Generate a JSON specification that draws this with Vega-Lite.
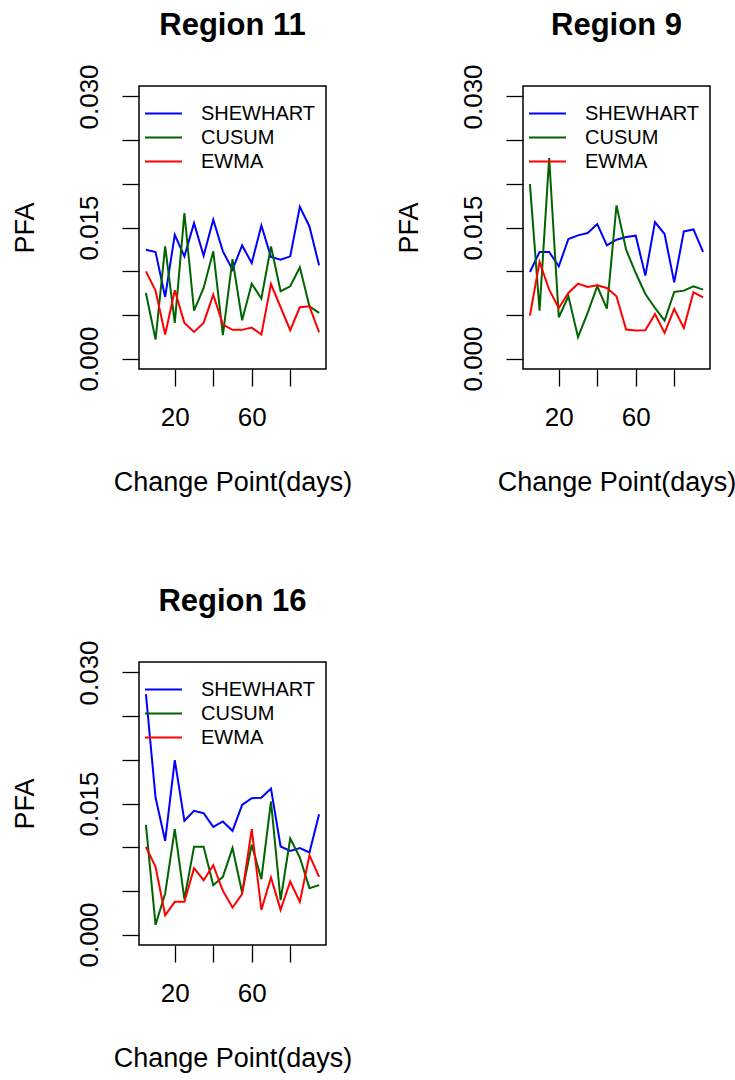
{
  "$schema": "https://vega.github.io/schema/vega-lite/v6.json",
  "background": "white",
  "padding": {"top": 9, "left": 10, "right": 5, "bottom": 5},
  "bounds": "flush",
  "spacing": {"row": 293, "column": 197},
  "columns": 2,
  "data": {"values": [
    {"region": "Region 11", "day": 5, "SHEWHART": 0.01246, "CUSUM": 0.0075, "EWMA": 0.00998},
    {"region": "Region 11", "day": 10, "SHEWHART": 0.0122, "CUSUM": 0.00217, "EWMA": 0.00777},
    {"region": "Region 11", "day": 15, "SHEWHART": 0.00705, "CUSUM": 0.01284, "EWMA": 0.00274},
    {"region": "Region 11", "day": 20, "SHEWHART": 0.01417, "CUSUM": 0.00408, "EWMA": 0.00781},
    {"region": "Region 11", "day": 25, "SHEWHART": 0.0117, "CUSUM": 0.01665, "EWMA": 0.00408},
    {"region": "Region 11", "day": 30, "SHEWHART": 0.0155, "CUSUM": 0.00549, "EWMA": 0.00305},
    {"region": "Region 11", "day": 35, "SHEWHART": 0.01177, "CUSUM": 0.00808, "EWMA": 0.00408},
    {"region": "Region 11", "day": 40, "SHEWHART": 0.0159, "CUSUM": 0.01227, "EWMA": 0.00732},
    {"region": "Region 11", "day": 45, "SHEWHART": 0.01227, "CUSUM": 0.00267, "EWMA": 0.00389},
    {"region": "Region 11", "day": 50, "SHEWHART": 0.01017, "CUSUM": 0.01139, "EWMA": 0.00328},
    {"region": "Region 11", "day": 55, "SHEWHART": 0.01295, "CUSUM": 0.00438, "EWMA": 0.00328},
    {"region": "Region 11", "day": 60, "SHEWHART": 0.01093, "CUSUM": 0.00857, "EWMA": 0.00354},
    {"region": "Region 11", "day": 65, "SHEWHART": 0.01524, "CUSUM": 0.00686, "EWMA": 0.00274},
    {"region": "Region 11", "day": 70, "SHEWHART": 0.01162, "CUSUM": 0.01284, "EWMA": 0.00853},
    {"region": "Region 11", "day": 75, "SHEWHART": 0.01131, "CUSUM": 0.0077, "EWMA": 0.00587},
    {"region": "Region 11", "day": 80, "SHEWHART": 0.0117, "CUSUM": 0.00827, "EWMA": 0.00324},
    {"region": "Region 11", "day": 85, "SHEWHART": 0.01737, "CUSUM": 0.01044, "EWMA": 0.00587},
    {"region": "Region 11", "day": 90, "SHEWHART": 0.01512, "CUSUM": 0.00598, "EWMA": 0.00598},
    {"region": "Region 11", "day": 95, "SHEWHART": 0.01067, "CUSUM": 0.00522, "EWMA": 0.00301},
    {"region": "Region 9", "day": 5, "SHEWHART": 0.0099, "CUSUM": 0.01996, "EWMA": 0.00491},
    {"region": "Region 9", "day": 10, "SHEWHART": 0.0122, "CUSUM": 0.00549, "EWMA": 0.01105},
    {"region": "Region 9", "day": 15, "SHEWHART": 0.0122, "CUSUM": 0.02294, "EWMA": 0.00789},
    {"region": "Region 9", "day": 20, "SHEWHART": 0.01055, "CUSUM": 0.00472, "EWMA": 0.00579},
    {"region": "Region 9", "day": 25, "SHEWHART": 0.01368, "CUSUM": 0.00712, "EWMA": 0.0075},
    {"region": "Region 9", "day": 30, "SHEWHART": 0.0141, "CUSUM": 0.00244, "EWMA": 0.00857},
    {"region": "Region 9", "day": 35, "SHEWHART": 0.01436, "CUSUM": 0.00522, "EWMA": 0.00819},
    {"region": "Region 9", "day": 40, "SHEWHART": 0.01539, "CUSUM": 0.00827, "EWMA": 0.00838},
    {"region": "Region 9", "day": 45, "SHEWHART": 0.01295, "CUSUM": 0.00572, "EWMA": 0.00808},
    {"region": "Region 9", "day": 50, "SHEWHART": 0.0136, "CUSUM": 0.01753, "EWMA": 0.00712},
    {"region": "Region 9", "day": 55, "SHEWHART": 0.01391, "CUSUM": 0.01246, "EWMA": 0.00331},
    {"region": "Region 9", "day": 60, "SHEWHART": 0.01406, "CUSUM": 0.00979, "EWMA": 0.0032},
    {"region": "Region 9", "day": 65, "SHEWHART": 0.00949, "CUSUM": 0.00739, "EWMA": 0.00324},
    {"region": "Region 9", "day": 70, "SHEWHART": 0.01562, "CUSUM": 0.00579, "EWMA": 0.0051},
    {"region": "Region 9", "day": 75, "SHEWHART": 0.01425, "CUSUM": 0.00434, "EWMA": 0.00293},
    {"region": "Region 9", "day": 80, "SHEWHART": 0.00872, "CUSUM": 0.00762, "EWMA": 0.00568},
    {"region": "Region 9", "day": 85, "SHEWHART": 0.01455, "CUSUM": 0.00777, "EWMA": 0.0035},
    {"region": "Region 9", "day": 90, "SHEWHART": 0.01478, "CUSUM": 0.00827, "EWMA": 0.00758},
    {"region": "Region 9", "day": 95, "SHEWHART": 0.0122, "CUSUM": 0.00789, "EWMA": 0.00701},
    {"region": "Region 16", "day": 5, "SHEWHART": 0.02752, "CUSUM": 0.01256, "EWMA": 0.01004},
    {"region": "Region 16", "day": 10, "SHEWHART": 0.01569, "CUSUM": 0.00111, "EWMA": 0.00775},
    {"region": "Region 16", "day": 15, "SHEWHART": 0.01073, "CUSUM": 0.0047, "EWMA": 0.00221},
    {"region": "Region 16", "day": 20, "SHEWHART": 0.01996, "CUSUM": 0.01206, "EWMA": 0.00374},
    {"region": "Region 16", "day": 25, "SHEWHART": 0.01302, "CUSUM": 0.00405, "EWMA": 0.00374},
    {"region": "Region 16", "day": 30, "SHEWHART": 0.01416, "CUSUM": 0.01004, "EWMA": 0.0076},
    {"region": "Region 16", "day": 35, "SHEWHART": 0.01389, "CUSUM": 0.01004, "EWMA": 0.00622},
    {"region": "Region 16", "day": 40, "SHEWHART": 0.01233, "CUSUM": 0.00565, "EWMA": 0.00794},
    {"region": "Region 16", "day": 45, "SHEWHART": 0.01294, "CUSUM": 0.0066, "EWMA": 0.005},
    {"region": "Region 16", "day": 50, "SHEWHART": 0.01187, "CUSUM": 0.00989, "EWMA": 0.00309},
    {"region": "Region 16", "day": 55, "SHEWHART": 0.01485, "CUSUM": 0.00481, "EWMA": 0.00462},
    {"region": "Region 16", "day": 60, "SHEWHART": 0.01561, "CUSUM": 0.01027, "EWMA": 0.01206},
    {"region": "Region 16", "day": 65, "SHEWHART": 0.01565, "CUSUM": 0.00634, "EWMA": 0.00282},
    {"region": "Region 16", "day": 70, "SHEWHART": 0.01672, "CUSUM": 0.01523, "EWMA": 0.00653},
    {"region": "Region 16", "day": 75, "SHEWHART": 0.01008, "CUSUM": 0.00393, "EWMA": 0.00282},
    {"region": "Region 16", "day": 80, "SHEWHART": 0.00958, "CUSUM": 0.01099, "EWMA": 0.00607},
    {"region": "Region 16", "day": 85, "SHEWHART": 0.00989, "CUSUM": 0.00882, "EWMA": 0.00374},
    {"region": "Region 16", "day": 90, "SHEWHART": 0.00939, "CUSUM": 0.00531, "EWMA": 0.00908},
    {"region": "Region 16", "day": 95, "SHEWHART": 0.01378, "CUSUM": 0.00565, "EWMA": 0.0066}
  ]},
  "transform": [{"fold": ["SHEWHART", "CUSUM", "EWMA"], "as": ["method", "pfa"]}],
  "concat": [
    {
      "title": "Region 11",
      "width": 187, "height": 283,
      "transform": [{"filter": "datum.region == 'Region 11'"}],
      "mark": {"type": "line", "strokeWidth": 2, "clip": true},
      "encoding": {
        "x": {"field": "day", "type": "quantitative", "scale": {"domain": [1.4, 98.6], "nice": false, "zero": false}, "axis": {"values": [20, 40, 60, 80], "labelExpr": "datum.value == 20 || datum.value == 60 ? datum.label : ''"}, "title": "Change Point(days)"},
        "y": {"field": "pfa", "type": "quantitative", "scale": {"domain": [-0.0012, 0.0312], "nice": false, "zero": false}, "axis": {"values": [0, 0.005, 0.01, 0.015, 0.02, 0.025, 0.03], "format": ".3f", "labelExpr": "datum.value == 0 || abs(datum.value - 0.015) < 0.0001 || abs(datum.value - 0.03) < 0.0001 ? datum.label : ''"}, "title": "PFA"},
        "color": {"field": "method", "type": "nominal", "scale": {"domain": ["SHEWHART", "CUSUM", "EWMA"], "range": ["#0000FF", "#006400", "#FF0000"]}, "legend": {"title": null}},
        "detail": {"field": "method"}
      }
    },
    {
      "title": "Region 9",
      "width": 187, "height": 283,
      "transform": [{"filter": "datum.region == 'Region 9'"}],
      "mark": {"type": "line", "strokeWidth": 2, "clip": true},
      "encoding": {
        "x": {"field": "day", "type": "quantitative", "scale": {"domain": [1.4, 98.6], "nice": false, "zero": false}, "axis": {"values": [20, 40, 60, 80], "labelExpr": "datum.value == 20 || datum.value == 60 ? datum.label : ''"}, "title": "Change Point(days)"},
        "y": {"field": "pfa", "type": "quantitative", "scale": {"domain": [-0.0012, 0.0312], "nice": false, "zero": false}, "axis": {"values": [0, 0.005, 0.01, 0.015, 0.02, 0.025, 0.03], "format": ".3f", "labelExpr": "datum.value == 0 || abs(datum.value - 0.015) < 0.0001 || abs(datum.value - 0.03) < 0.0001 ? datum.label : ''"}, "title": "PFA"},
        "color": {"field": "method", "type": "nominal", "scale": {"domain": ["SHEWHART", "CUSUM", "EWMA"], "range": ["#0000FF", "#006400", "#FF0000"]}, "legend": {"title": null}},
        "detail": {"field": "method"}
      }
    },
    {
      "title": "Region 16",
      "width": 187, "height": 283,
      "transform": [{"filter": "datum.region == 'Region 16'"}],
      "mark": {"type": "line", "strokeWidth": 2, "clip": true},
      "encoding": {
        "x": {"field": "day", "type": "quantitative", "scale": {"domain": [1.4, 98.6], "nice": false, "zero": false}, "axis": {"values": [20, 40, 60, 80], "labelExpr": "datum.value == 20 || datum.value == 60 ? datum.label : ''"}, "title": "Change Point(days)"},
        "y": {"field": "pfa", "type": "quantitative", "scale": {"domain": [-0.0012, 0.0312], "nice": false, "zero": false}, "axis": {"values": [0, 0.005, 0.01, 0.015, 0.02, 0.025, 0.03], "format": ".3f", "labelExpr": "datum.value == 0 || abs(datum.value - 0.015) < 0.0001 || abs(datum.value - 0.03) < 0.0001 ? datum.label : ''"}, "title": "PFA"},
        "color": {"field": "method", "type": "nominal", "scale": {"domain": ["SHEWHART", "CUSUM", "EWMA"], "range": ["#0000FF", "#006400", "#FF0000"]}, "legend": {"title": null}},
        "detail": {"field": "method"}
      }
    }
  ],
  "resolve": {"scale": {"color": "independent", "x": "independent", "y": "independent"}, "legend": {"color": "independent"}, "axis": {"x": "independent", "y": "independent"}},
  "config": {
    "font": "Liberation Sans",
    "view": {"stroke": "black", "strokeWidth": 1.5},
    "title": {"font": "Liberation Sans", "fontSize": 31, "fontWeight": "bold", "color": "black", "anchor": "middle", "baseline": "alphabetic", "offset": 22},
    "axis": {"domain": false, "grid": false, "ticks": true, "tickColor": "black", "tickWidth": 1.3, "tickSize": 17, "labelFont": "Liberation Sans", "labelFontSize": 26, "labelColor": "black", "labelOverlap": false, "titleFont": "Liberation Sans", "titleFontSize": 27, "titleFontWeight": "normal", "titleColor": "black"},
    "axisX": {"labelPadding": 18, "titlePadding": 39},
    "axisY": {"labelAngle": -90, "labelAlign": "center", "labelBaseline": "bottom", "labelPadding": 20, "titlePadding": 37},
    "legend": {"orient": "top-left", "offset": 17, "padding": 0, "symbolType": "M-2,0H2", "symbolSize": 342, "symbolStrokeWidth": 2, "symbolFillColor": "transparent", "symbolOffset": -3, "labelFont": "Liberation Sans", "labelFontSize": 20, "labelColor": "black", "labelOffset": 27, "rowPadding": 3}
  }
}
